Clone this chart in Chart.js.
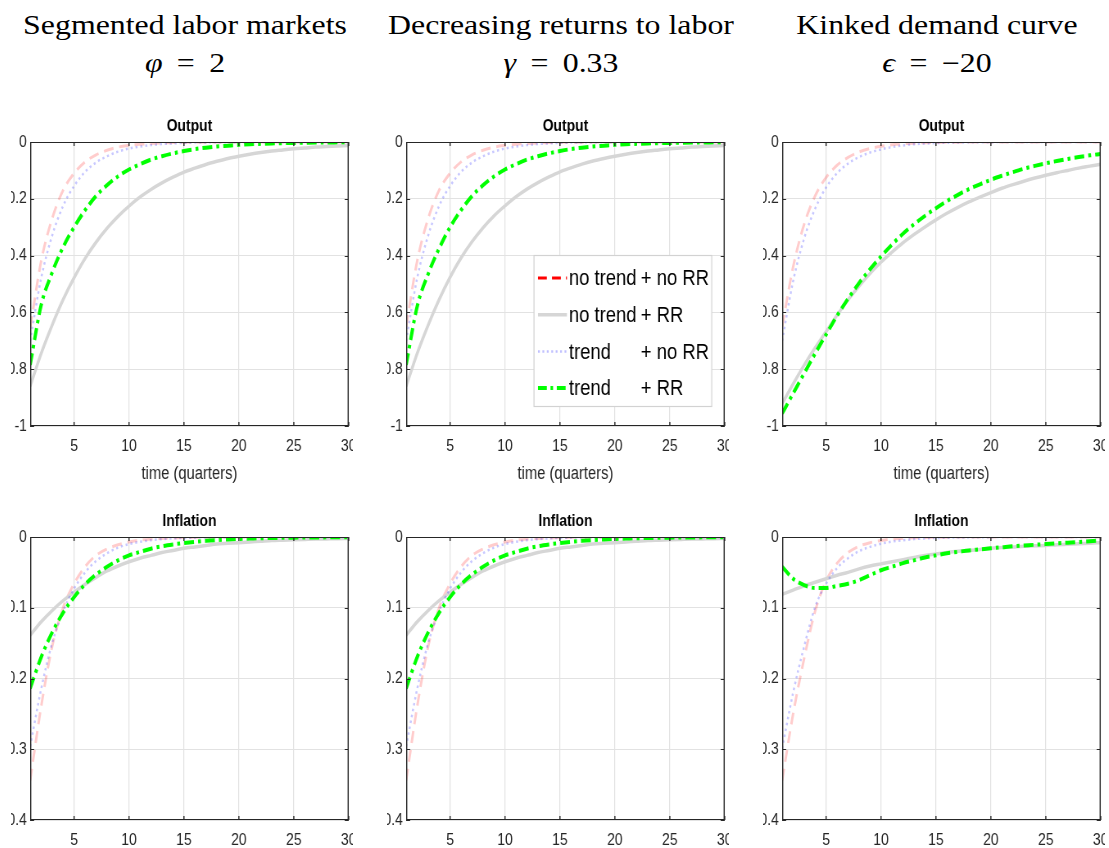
<!DOCTYPE html>
<html>
<head>
<meta charset="utf-8">
<script src="https://cdn.jsdelivr.net/npm/chart.js@4.4.1/dist/chart.umd.min.js"></script>
<style>
html,body{margin:0;padding:0;background:#fff;}
body{width:1109px;height:848px;overflow:hidden;position:relative;}
.clip{position:absolute;overflow:hidden;}
.clip canvas{position:absolute;top:0;}
.ttl{position:absolute;font-family:'Liberation Serif','Times New Roman',serif;font-size:27px;color:#000;white-space:nowrap;line-height:1;transform:translate(-50%,-50%) scaleX(1.18);}
.ttl.p{word-spacing:0.2em;}
</style>
</head>
<body>
<script>
// ---------- data ----------
const quarters = [1,2,3,4,5,6,7,8,9,10,11,12,13,14,15,16,17,18,19,20,21,22,23,24,25,26,27,28,29,30];
const panelTitles = ['Segmented labor markets', 'Decreasing returns to labor', 'Kinked demand curve'];
const paramSymbols = ['\u03C6', '\u03B3', '\u03F5'];
const paramValues = ['= 2', '= 0.33', '= \u221220'];
const rowTitles = ['Output', 'Inflation'];
const xAxisTitle = 'time (quarters)';
const seriesNames = ['no trend + no RR', 'no trend + RR', 'trend + no RR', 'trend + RR'];
const xTicks = [5, 10, 15, 20, 25, 30];
const outputTicks = [-1, -0.8, -0.6, -0.4, -0.2, 0];
const outputTickLabels = ['-1', '-0.8', '-0.6', '-0.4', '-0.2', '0'];
const inflationTicks = [-0.4, -0.3, -0.2, -0.1, 0];
const inflationTickLabels = ['-0.4', '-0.3', '-0.2', '-0.1', '0'];

// Segmented labor markets
const segOutNoTrendNoRR = [-0.655,-0.42,-0.27,-0.17,-0.11,-0.07,-0.045,-0.029,-0.018,-0.012,-0.008,-0.005,-0.003,-0.002,-0.0012,-0.0008,-0.0005,-0.0003,-0.0002,-0.0001,0,0,0,0,0,0,0,0,0,0];
const segOutNoTrendRR = [-0.86,-0.745,-0.645,-0.555,-0.478,-0.41,-0.353,-0.304,-0.262,-0.226,-0.194,-0.167,-0.144,-0.124,-0.106,-0.092,-0.079,-0.068,-0.058,-0.05,-0.043,-0.037,-0.032,-0.028,-0.024,-0.021,-0.018,-0.016,-0.014,-0.012];
const segOutTrendNoRR = [-0.70,-0.48,-0.33,-0.225,-0.155,-0.105,-0.072,-0.05,-0.034,-0.023,-0.016,-0.011,-0.007,-0.005,-0.003,-0.002,-0.0015,-0.001,-0.0007,-0.0005,-0.0003,-0.0002,-0.0001,0,0,0,0,0,0,0];
const segOutTrendRR = [-0.785,-0.575,-0.46,-0.37,-0.30,-0.24,-0.19,-0.152,-0.121,-0.097,-0.078,-0.062,-0.05,-0.04,-0.032,-0.025,-0.02,-0.016,-0.013,-0.01,-0.008,-0.0065,-0.005,-0.004,-0.0033,-0.0026,-0.002,-0.0017,-0.0013,-0.001];
const segInfNoTrendNoRR = [-0.344,-0.24,-0.155,-0.10,-0.066,-0.042,-0.026,-0.017,-0.011,-0.007,-0.0045,-0.003,-0.002,-0.0013,-0.0008,-0.0005,-0.0003,-0.0002,-0.0001,0,0,0,0,0,0,0,0,0,0,0];
const segInfNoTrendRR = [-0.139,-0.12,-0.104,-0.09,-0.078,-0.067,-0.057,-0.048,-0.041,-0.035,-0.03,-0.026,-0.022,-0.019,-0.016,-0.014,-0.012,-0.01,-0.009,-0.008,-0.007,-0.006,-0.005,-0.0045,-0.004,-0.0035,-0.003,-0.0027,-0.0024,-0.002];
const segInfTrendNoRR = [-0.296,-0.215,-0.15,-0.105,-0.073,-0.05,-0.034,-0.023,-0.015,-0.01,-0.0068,-0.0045,-0.003,-0.002,-0.0013,-0.0009,-0.0006,-0.0004,-0.0003,-0.0002,-0.0001,0,0,0,0,0,0,0,0,0];
const segInfTrendRR = [-0.214,-0.17,-0.135,-0.107,-0.085,-0.067,-0.053,-0.042,-0.033,-0.026,-0.021,-0.0165,-0.013,-0.0105,-0.0085,-0.0068,-0.0054,-0.0043,-0.0034,-0.0027,-0.0022,-0.0017,-0.0014,-0.0011,-0.0009,-0.0007,-0.0006,-0.0005,-0.0004,-0.0003];

// Decreasing returns to labor
const decOutNoTrendNoRR = [-0.65,-0.42,-0.27,-0.17,-0.11,-0.07,-0.045,-0.029,-0.018,-0.012,-0.008,-0.005,-0.003,-0.002,-0.0012,-0.0008,-0.0005,-0.0003,-0.0002,-0.0001,0,0,0,0,0,0,0,0,0,0];
const decOutNoTrendRR = [-0.86,-0.745,-0.645,-0.555,-0.476,-0.408,-0.351,-0.302,-0.26,-0.225,-0.193,-0.166,-0.143,-0.123,-0.105,-0.091,-0.078,-0.067,-0.058,-0.05,-0.043,-0.037,-0.032,-0.028,-0.024,-0.021,-0.018,-0.016,-0.014,-0.012];
const decOutTrendNoRR = [-0.70,-0.48,-0.33,-0.225,-0.155,-0.105,-0.072,-0.05,-0.034,-0.023,-0.016,-0.011,-0.007,-0.005,-0.003,-0.002,-0.0015,-0.001,-0.0007,-0.0005,-0.0003,-0.0002,-0.0001,0,0,0,0,0,0,0];
const decOutTrendRR = [-0.785,-0.58,-0.465,-0.375,-0.30,-0.24,-0.19,-0.152,-0.121,-0.097,-0.078,-0.062,-0.05,-0.04,-0.032,-0.025,-0.02,-0.016,-0.013,-0.01,-0.008,-0.0065,-0.005,-0.004,-0.0033,-0.0026,-0.002,-0.0017,-0.0013,-0.001];
const decInfNoTrendNoRR = [-0.344,-0.24,-0.155,-0.10,-0.066,-0.042,-0.026,-0.017,-0.011,-0.007,-0.0045,-0.003,-0.002,-0.0013,-0.0008,-0.0005,-0.0003,-0.0002,-0.0001,0,0,0,0,0,0,0,0,0,0,0];
const decInfNoTrendRR = [-0.139,-0.12,-0.104,-0.09,-0.078,-0.067,-0.057,-0.048,-0.041,-0.035,-0.03,-0.026,-0.022,-0.019,-0.016,-0.014,-0.012,-0.01,-0.009,-0.008,-0.007,-0.006,-0.005,-0.0045,-0.004,-0.0035,-0.003,-0.0027,-0.0024,-0.002];
const decInfTrendNoRR = [-0.296,-0.215,-0.15,-0.105,-0.073,-0.05,-0.034,-0.023,-0.015,-0.01,-0.0068,-0.0045,-0.003,-0.002,-0.0013,-0.0009,-0.0006,-0.0004,-0.0003,-0.0002,-0.0001,0,0,0,0,0,0,0,0,0];
const decInfTrendRR = [-0.214,-0.17,-0.135,-0.107,-0.085,-0.067,-0.053,-0.042,-0.033,-0.026,-0.021,-0.0165,-0.013,-0.0105,-0.0085,-0.0068,-0.0054,-0.0043,-0.0034,-0.0027,-0.0022,-0.0017,-0.0014,-0.0011,-0.0009,-0.0007,-0.0006,-0.0005,-0.0004,-0.0003];

// Kinked demand curve
const kinkOutNoTrendNoRR = [-0.65,-0.44,-0.29,-0.19,-0.125,-0.082,-0.054,-0.035,-0.023,-0.015,-0.01,-0.006,-0.004,-0.0025,-0.0015,-0.001,-0.0006,-0.0004,-0.0002,-0.0001,0,0,0,0,0,0,0,0,0,0];
const kinkOutNoTrendRR = [-0.921,-0.852,-0.786,-0.725,-0.668,-0.61,-0.556,-0.508,-0.463,-0.423,-0.388,-0.355,-0.326,-0.299,-0.274,-0.251,-0.23,-0.211,-0.194,-0.178,-0.163,-0.15,-0.138,-0.127,-0.117,-0.108,-0.1,-0.092,-0.085,-0.078];
const kinkOutTrendNoRR = [-0.70,-0.49,-0.34,-0.235,-0.16,-0.11,-0.076,-0.053,-0.037,-0.026,-0.018,-0.012,-0.008,-0.0055,-0.0037,-0.0025,-0.0017,-0.0011,-0.0007,-0.0005,-0.0003,-0.0002,-0.0001,0,0,0,0,0,0,0];
const kinkOutTrendRR = [-0.956,-0.885,-0.815,-0.745,-0.678,-0.612,-0.552,-0.497,-0.448,-0.403,-0.361,-0.323,-0.29,-0.26,-0.233,-0.208,-0.186,-0.166,-0.149,-0.133,-0.119,-0.106,-0.094,-0.084,-0.075,-0.067,-0.06,-0.053,-0.047,-0.042];
const kinkInfNoTrendNoRR = [-0.344,-0.25,-0.172,-0.105,-0.062,-0.037,-0.022,-0.013,-0.008,-0.005,-0.003,-0.002,-0.0012,-0.0007,-0.0004,-0.0002,-0.0001,0,0,0,0,0,0,0,0,0,0,0,0,0];
const kinkInfNoTrendRR = [-0.081,-0.075,-0.069,-0.064,-0.059,-0.054,-0.05,-0.045,-0.041,-0.038,-0.035,-0.032,-0.029,-0.026,-0.024,-0.022,-0.02,-0.019,-0.0175,-0.016,-0.015,-0.014,-0.013,-0.0125,-0.012,-0.011,-0.0103,-0.0095,-0.0088,-0.008];
const kinkInfTrendNoRR = [-0.299,-0.22,-0.155,-0.099,-0.066,-0.044,-0.03,-0.02,-0.014,-0.0095,-0.0065,-0.0045,-0.003,-0.002,-0.0014,-0.001,-0.0007,-0.0005,-0.0003,-0.0002,-0.0001,0,0,0,0,0,0,0,0,0];
const kinkInfTrendRR = [-0.042,-0.059,-0.068,-0.072,-0.072,-0.069,-0.066,-0.061,-0.054,-0.047,-0.042,-0.037,-0.033,-0.029,-0.026,-0.023,-0.021,-0.019,-0.0175,-0.016,-0.0145,-0.013,-0.012,-0.011,-0.010,-0.009,-0.008,-0.007,-0.006,-0.005];

const panelSeries = [
  [[segOutNoTrendNoRR, segOutNoTrendRR, segOutTrendNoRR, segOutTrendRR],
   [segInfNoTrendNoRR, segInfNoTrendRR, segInfTrendNoRR, segInfTrendRR]],
  [[decOutNoTrendNoRR, decOutNoTrendRR, decOutTrendNoRR, decOutTrendRR],
   [decInfNoTrendNoRR, decInfNoTrendRR, decInfTrendNoRR, decInfTrendRR]],
  [[kinkOutNoTrendNoRR, kinkOutNoTrendRR, kinkOutTrendNoRR, kinkOutTrendRR],
   [kinkInfNoTrendNoRR, kinkInfNoTrendRR, kinkInfTrendNoRR, kinkInfTrendRR]]
];

// ---------- styles / layout ----------
const SANS = "'Liberation Sans',Arial,sans-serif";
const K = 0.82;            // horizontal condensing of the canvases (narrow MATLAB font look)
const SX = 1 / K;
const lineStyles = [
  {color:'rgba(255,0,0,0.2)', legend:'#ff0000', width:3, dash:[12,7], order:3},
  {color:'rgb(214,214,214)', legend:'rgb(214,214,214)', width:3.5, dash:[], order:2},
  {color:'rgba(0,0,255,0.22)', legend:'rgba(0,0,255,0.25)', width:2.5, dash:[2.5,3.5], order:1},
  {color:'#00ff00', legend:'#00ff00', width:4, dash:[12,5,3.5,5], order:0}
];
const plotLefts = [30, 406, 782];
const plotW = 319;
const plotTops = [142, 537];
const plotHeights = [284, 283];
const yAxisU = 49, rightU = 15;

// titles
panelTitles.forEach((t, c) => {
  const cx = plotLefts[c] + plotW / 2 - 5;
  const d1 = document.createElement('div');
  d1.className = 'ttl'; d1.textContent = t;
  d1.style.left = cx + 'px'; d1.style.top = '25px';
  document.body.appendChild(d1);
  const d2 = document.createElement('div');
  d2.className = 'ttl p';
  const it = document.createElement('i'); it.textContent = paramSymbols[c];
  d2.appendChild(it);
  d2.appendChild(document.createTextNode(' ' + paramValues[c]));
  d2.style.left = cx + 'px'; d2.style.top = '63px';
  document.body.appendChild(d2);
});

const boxPlugin = {
  id: 'boxAndTicks',
  afterDatasetsDraw(chart) {
    const {ctx, chartArea: a, scales} = chart;
    ctx.save();
    ctx.strokeStyle = '#262626';
    ctx.lineWidth = 1;
    ctx.beginPath();
    ctx.moveTo(a.left + 0.6, a.top + 0.5); ctx.lineTo(a.right - 0.6, a.top + 0.5);
    ctx.moveTo(a.left + 0.6, a.bottom - 0.5); ctx.lineTo(a.right - 0.6, a.bottom - 0.5);
    ctx.stroke();
    ctx.lineWidth = 1.4;
    ctx.beginPath();
    ctx.moveTo(a.left + 0.7, a.top); ctx.lineTo(a.left + 0.7, a.bottom);
    ctx.moveTo(a.right - 0.7, a.top); ctx.lineTo(a.right - 0.7, a.bottom);
    ctx.stroke();
    ctx.lineWidth = 1;
    ctx.beginPath();
    scales.y.ticks.forEach(t => {
      const y = Math.round(scales.y.getPixelForValue(t.value)) + 0.5;
      ctx.moveTo(a.left, y); ctx.lineTo(a.left + 4 * SX, y);
      ctx.moveTo(a.right, y); ctx.lineTo(a.right - 4 * SX, y);
    });
    ctx.stroke();
    ctx.lineWidth = 1.4;
    ctx.beginPath();
    scales.x.ticks.forEach(t => {
      const x = scales.x.getPixelForValue(t.value);
      ctx.moveTo(x, a.bottom); ctx.lineTo(x, a.bottom - 4);
      ctx.moveTo(x, a.top); ctx.lineTo(x, a.top + 4);
    });
    ctx.stroke();
    ctx.restore();
  }
};

const legendPlugin = {
  id: 'boxLegend',
  afterDraw(chart) {
    if (!chart.options.plugins.boxLegend || !chart.options.plugins.boxLegend.show) return;
    const {ctx, chartArea: a} = chart;
    const bx = a.left + 128 * SX, by = a.top + 113, bw = 178 * SX, bh = 151;
    ctx.save();
    ctx.fillStyle = '#ffffff';
    ctx.fillRect(bx, by, bw, bh);
    ctx.strokeStyle = '#d2d2d2';
    ctx.lineWidth = 1.2;
    ctx.strokeRect(bx, by + 0.5, bw, bh);
    ctx.font = '22.5px ' + SANS;
    ctx.textBaseline = 'middle';
    ctx.fillStyle = '#000';
    chart.data.datasets.forEach((ds, k) => {
      const y = by + 23 + k * 36.7;
      ctx.save();
      ctx.strokeStyle = ds.legendColor;
      ctx.lineWidth = ds.borderWidth;
      ctx.setLineDash((ds.borderDash || []).map(v => v * 0.9));
      ctx.beginPath();
      ctx.moveTo(bx + 4 * SX, y); ctx.lineTo(bx + 33 * SX, y);
      ctx.stroke();
      ctx.restore();
      const parts = ds.label.split('+');
      ctx.fillText(parts[0].trim(), bx + 35 * SX, y + 1);
      ctx.fillText('+' + parts[1], bx + 107 * SX, y + 1);
    });
    ctx.restore();
  }
};

function makePanel(col, row) {
  const plotLeft = plotLefts[col], plotTop = plotTops[row], plotH = plotHeights[row];
  const xAxisH = row === 0 ? 59 : 40;
  const plotWU = Math.round(plotW * SX);
  const cwU = yAxisU + plotWU + rightU;
  const ch = 30 + plotH + xAxisH + 2;
  const clip = document.createElement('div');
  clip.className = 'clip';
  clip.style.left = (plotLeft - 19) + 'px';
  clip.style.top = (plotTop - 30) + 'px';
  clip.style.width = (plotW + 23) + 'px';
  clip.style.height = ch + 'px';
  const cv = document.createElement('canvas');
  cv.width = cwU; cv.height = ch;
  cv.style.width = (cwU * K) + 'px'; cv.style.height = ch + 'px';
  cv.style.left = (19 - yAxisU * K) + 'px';
  clip.appendChild(cv);
  document.body.appendChild(clip);

  const series = panelSeries[col][row];
  const yTicks = row === 0 ? outputTicks : inflationTicks;
  const yLabels = row === 0 ? outputTickLabels : inflationTickLabels;
  const datasets = seriesNames.map((name, k) => ({
    label: name,
    data: quarters.map((q, i) => ({x: q, y: series[k][i]})),
    borderColor: lineStyles[k].color,
    legendColor: lineStyles[k].legend,
    borderWidth: lineStyles[k].width,
    borderDash: lineStyles[k].dash,
    borderCapStyle: 'butt',
    pointRadius: 0,
    fill: false,
    cubicInterpolationMode: 'monotone',
    order: lineStyles[k].order
  }));

  new Chart(cv, {
    type: 'line',
    data: {datasets},
    options: {
      responsive: false,
      devicePixelRatio: 1,
      animation: false,
      events: [],
      layout: {padding: {left: 0, right: rightU, top: 0, bottom: 2}},
      plugins: {
        legend: {display: false},
        tooltip: {enabled: false},
        title: {display: true, fullSize: false, text: rowTitles[row], color: '#000',
                font: {family: SANS, size: 17, weight: 'bold'}, padding: {top: 4, bottom: 5.6}},
        boxLegend: {show: col === 1 && row === 0}
      },
      scales: {
        x: {
          type: 'linear', min: 1, max: 30,
          afterBuildTicks: s => { s.ticks = xTicks.map(v => ({value: v})); },
          afterFit: s => { s.height = xAxisH; s.paddingLeft = 0; s.paddingRight = 0; },
          grid: {color: '#e2e2e2', drawTicks: false, lineWidth: 1.2},
          border: {display: false},
          ticks: {color: '#262626', font: {family: SANS, size: 17}, padding: 10, maxRotation: 0, autoSkip: false,
                  callback: v => String(v)},
          title: {display: row === 0, text: xAxisTitle, color: '#262626', font: {family: SANS, size: 18}, padding: 0}
        },
        y: {
          type: 'linear', min: yTicks[0], max: 0,
          afterBuildTicks: s => { s.ticks = yTicks.map(v => ({value: v})); },
          afterFit: s => { s.width = yAxisU; },
          grid: {color: '#e2e2e2', drawTicks: false},
          border: {display: false},
          ticks: {color: '#262626', font: {family: SANS, size: 17}, padding: 4, autoSkip: false,
                  callback: (v, i) => yLabels[i]}
        }
      }
    },
    plugins: [boxPlugin, legendPlugin]
  });
}

for (let r = 0; r < 2; r++) for (let c = 0; c < 3; c++) makePanel(c, r);
</script>
</body>
</html>
